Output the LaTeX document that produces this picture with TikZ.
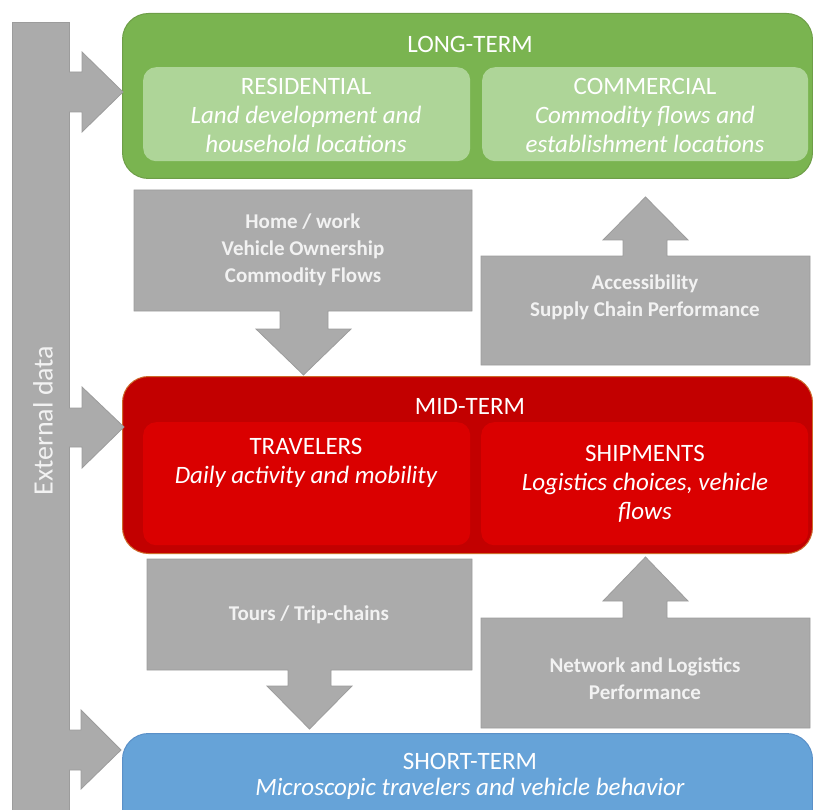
\documentclass[tikz,border=0pt]{standalone}
\usepackage{fontspec}
\setmainfont{Carlito}
\definecolor{greenout}{HTML}{7AB450}
\definecolor{greenline}{HTML}{6E9E48}
\definecolor{greenin}{HTML}{AED598}
\definecolor{redout}{HTML}{C20000}
\definecolor{redin}{HTML}{DA0000}
\definecolor{redline}{HTML}{CC6A2A}
\definecolor{blueout}{HTML}{66A3D8}
\definecolor{blueline}{HTML}{5A90C8}
\definecolor{grayf}{HTML}{ABABAB}
\definecolor{grayd}{HTML}{9C9C9C}
\definecolor{graytxt}{HTML}{F2F2F2}
\begin{document}
\begin{tikzpicture}[x=1pt,y=-1pt,
  outerbox/.style={draw, line width=1pt, rounded corners=26pt, anchor=north west, inner sep=0pt},
  innerbox/.style={rounded corners=13pt, anchor=north west, inner sep=0pt},
  grayshape/.style={fill=grayf, draw=grayd, line width=0.8pt},
  graytext/.style={text=graytxt, font=\fontsize{21}{27}\selectfont\bfseries, align=center},
  titletext/.style={text=white, font=\fontsize{25}{29}\selectfont, align=center},
  desctext/.style={text=white, font=\fontsize{25}{29}\selectfont\itshape, align=center}]
\useasboundingbox (0,0) rectangle (813,810);
\clip (0,0) rectangle (813,810);

% external data bar
\node[fill=grayf, draw=grayd, line width=0.8pt, anchor=north west, minimum width=57pt, minimum height=800pt, inner sep=0pt] (ext) at (12,22) {};
\node[text=graytxt, font=\fontsize{28}{32}\selectfont, rotate=90] (extt) at (43,420.5) {External data};

% main boxes
\node[outerbox, fill=greenout, draw=greenline, minimum width=690pt, minimum height=165pt] (long) at (122,13) {};
\node[innerbox, fill=greenin, minimum width=327pt, minimum height=94pt] (res) at (143,67) {};
\node[innerbox, fill=greenin, minimum width=326pt, minimum height=94pt] (com) at (482,67) {};

\node[outerbox, fill=redout, draw=redline, minimum width=690pt, minimum height=177pt] (mid) at (122,376) {};
\node[innerbox, fill=redin, minimum width=327pt, minimum height=123pt] (trav) at (143,422) {};
\node[innerbox, fill=redin, minimum width=327pt, minimum height=123pt] (ship) at (481,422) {};

\node[outerbox, fill=blueout, draw=blueline, minimum width=690pt, minimum height=120pt] (short) at (122,733) {};

% texts in boxes
\node[titletext] (longt) at (470,44) {LONG-TERM};
\node[titletext] (rest) at (306,115) {RESIDENTIAL\\{\itshape Land development and}\\{\itshape household locations}};
\node[titletext] (comt) at (645,115) {COMMERCIAL\\{\itshape Commodity flows and}\\{\itshape establishment locations}};
\node[titletext] (midt) at (470,406) {MID-TERM};
\node[titletext] (travt) at (306,463) {TRAVELERS\\{\itshape Daily activity and mobility}};
\node[titletext] (shipt) at (645,484) {SHIPMENTS\\{\itshape Logistics choices, vehicle}\\{\itshape flows}};
\node[titletext] (shortt) at (470,761) {SHORT-TERM};
\node[desctext] (shortd) at (470,789) {Microscopic travelers and vehicle behavior};

% arrows from external data
\draw[grayshape] (69,72) -- (82,72) -- (82,52) -- (123,92) -- (82,132) -- (82,112) -- (69,112);
\draw[grayshape] (69,408) -- (82,408) -- (82,387) -- (124,427) -- (82,468) -- (82,447) -- (69,447);
\draw[grayshape] (69,730) -- (81,730) -- (81,710) -- (121,750) -- (81,789) -- (81,770) -- (69,770);

% gray callouts
\draw[grayshape] (134,190) -- (472,190) -- (472,311) -- (328,311) -- (328,329) -- (351,329) -- (303.5,375) -- (256,329) -- (280,329) -- (280,311) -- (134,311) -- cycle;
\node[graytext] (hw) at (303,250) {Home / work\\Vehicle Ownership\\Commodity Flows};

\draw[grayshape] (481,256) -- (623,256) -- (623,240) -- (603,240) -- (645.5,197) -- (688,240) -- (667,240) -- (667,256) -- (810,256) -- (810,365) -- (481,365) -- cycle;
\node[graytext] (acc) at (645,297.5) {Accessibility\\Supply Chain Performance};

\draw[grayshape] (147,559) -- (472,559) -- (472,670) -- (331,670) -- (331,686) -- (352,686) -- (309.5,729) -- (267,686) -- (288,686) -- (288,670) -- (147,670) -- cycle;
\node[graytext] (tours) at (309,615) {Tours / Trip-chains};

\draw[grayshape] (481,618) -- (623,618) -- (623,601) -- (603,601) -- (645.5,557) -- (688,601) -- (667,601) -- (667,618) -- (810,618) -- (810,728) -- (481,728) -- cycle;
\node[graytext] (net) at (645,679) {Network and Logistics\\Performance};
\end{tikzpicture}
\end{document}
